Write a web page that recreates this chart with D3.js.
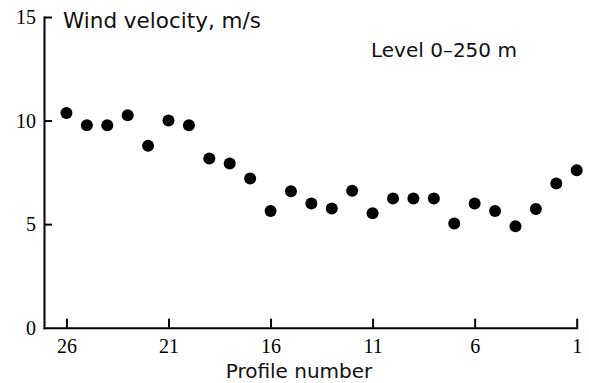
<!DOCTYPE html>
<html>
<head>
<meta charset="utf-8">
<script src="https://cdn.jsdelivr.net/npm/d3@7"></script>
<style>
  html, body { margin: 0; padding: 0; background: #fff; }
  svg { display: block; }
  .serif { font-family: "Liberation Serif", "DejaVu Serif", serif; font-size: 20px; fill: #000; }
  .sans { font-family: "DejaVu Sans", sans-serif; fill: #111; }
</style>
</head>
<body>
<svg width="589" height="383"></svg>
<script>
// profile numbers (axis runs 26 -> 1) and wind velocity, m/s
const profiles = [26, 25, 24, 23, 22, 21, 20, 19, 18, 17, 16, 15, 14, 13, 12, 11, 10, 9, 8, 7, 6, 5, 4, 3, 2, 1];
const velocity = [10.37, 9.77, 9.77, 10.26, 8.78, 10.0, 9.77, 8.17, 7.93, 7.2, 5.63, 6.59, 6.0, 5.76, 6.61, 5.52, 6.24, 6.24, 6.24, 5.03, 6.0, 5.63, 4.9, 5.73, 6.96, 7.6];
const xTicks = [26, 21, 16, 11, 6, 1];
const yTicks = [0, 5, 10, 15];

const svg = d3.select("svg");

const x = d3.scaleLinear().domain([27.1, 1]).range([44, 576.7]);
const y = d3.scaleLinear().domain([0, 15]).range([327.7, 17]);

// x axis, ticks pointing inward
const xAxis = svg.append("g")
    .attr("transform", `translate(0,${y(0)})`)
    .call(d3.axisBottom(x).tickValues(xTicks).tickSize(-9).tickSizeOuter(0).tickPadding(15));
xAxis.select(".domain").attr("stroke-width", 2).attr("stroke", "#000");
xAxis.selectAll(".tick line").attr("stroke-width", 2).attr("stroke", "#000");
xAxis.selectAll(".tick text").attr("class", "serif").attr("font-size", null).attr("font-family", null)
    .attr("dy", null).attr("y", 25);

// y axis
const yAxis = svg.append("g")
    .attr("transform", `translate(${x(27.1)},0)`)
    .call(d3.axisLeft(y).tickValues(yTicks).tickSize(-8).tickSizeOuter(0).tickPadding(8));
yAxis.select(".domain").attr("stroke-width", 2).attr("stroke", "#000");
yAxis.selectAll(".tick line").attr("stroke-width", 2).attr("stroke", "#000");
yAxis.selectAll(".tick text").attr("class", "serif").attr("font-size", null).attr("font-family", null)
    .attr("dy", "0.33em").attr("x", -8);
yAxis.selectAll(".tick").filter(d => d === 0).select("line").remove();
svg.selectAll(".domain").attr("stroke-linecap", "square");

// points
svg.append("g").selectAll("circle")
    .data(profiles.map((p, i) => ({p, v: velocity[i]})))
    .join("circle")
    .attr("cx", d => x(d.p))
    .attr("cy", d => y(d.v))
    .attr("r", 6)
    .attr("fill", "#000");

// labels
svg.append("text").attr("class", "sans").attr("x", 63).attr("y", 28)
    .attr("font-size", 21.5).text("Wind velocity, m/s");
svg.append("text").attr("class", "sans").attr("x", 371).attr("y", 57)
    .attr("font-size", 20).text("Level 0\u2013250 m");
svg.append("text").attr("class", "sans").attr("x", 299).attr("y", 378)
    .attr("text-anchor", "middle").attr("font-size", 20).text("Profile number");
</script>
</body>
</html>
